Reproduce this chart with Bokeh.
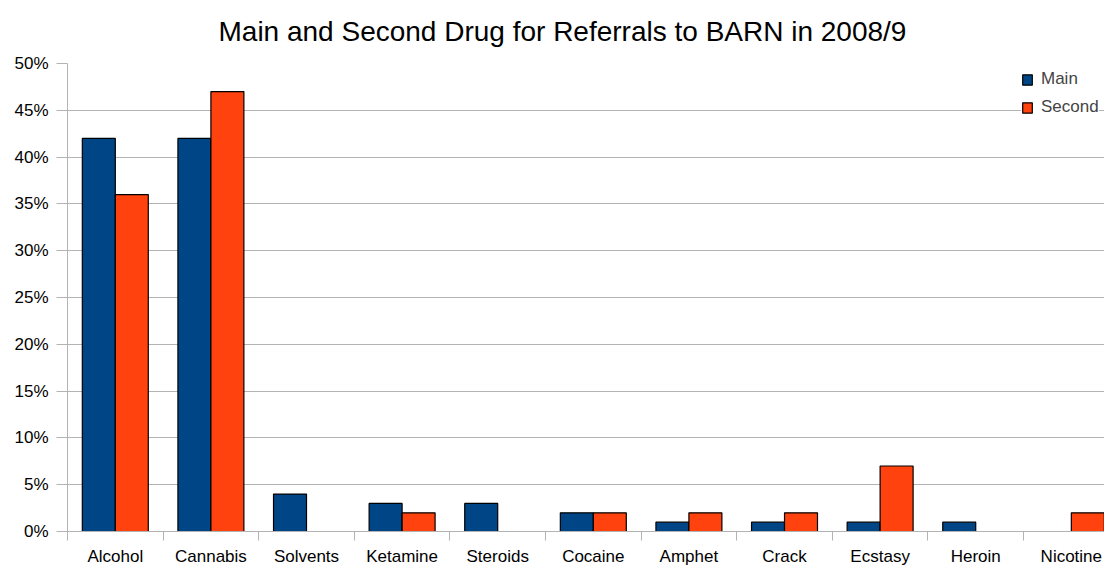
from bokeh.plotting import figure
from bokeh.models import (Range1d, FixedTicker, PrintfTickFormatter, Legend, LegendItem,
                          ColumnDataSource)
from bokeh.transform import dodge
from bokeh.embed import file_html
from bokeh.resources import INLINE

categories = ["Alcohol", "Cannabis", "Solvents", "Ketamine", "Steroids", "Cocaine",
              "Amphet", "Crack", "Ecstasy", "Heroin", "Nicotine"]
main = [42, 42, 4, 3, 3, 2, 1, 1, 1, 1, 0]
second = [36, 47, 0, 2, 0, 2, 2, 2, 7, 0, 2]
y_ticks = [0, 5, 10, 15, 20, 25, 30, 35, 40, 45, 50]
title_text = "Main and Second Drug for Referrals to BARN in 2008/9"

FONT = "Liberation Sans"
GRID = "#b3b3b3"
C_MAIN = "#004586"
C_SECOND = "#ff420e"

centers = [i + 0.5 for i in range(len(categories))]
bounds = [float(i) for i in range(len(categories) + 1)]

src_main = ColumnDataSource(dict(
    x=[c for c, v in zip(centers, main) if v > 0],
    top=[v for v in main if v > 0]))
src_second = ColumnDataSource(dict(
    x=[c for c, v in zip(centers, second) if v > 0],
    top=[v for v in second if v > 0]))

p = figure(width=1104, height=568, output_backend="svg", toolbar_location=None,
           x_range=Range1d(0, 10.847), y_range=Range1d(0, 50),
           min_border_left=67, min_border_right=0, min_border_top=62, min_border_bottom=36)
p.outline_line_color = None
p.background_fill_color = "white"
p.border_fill_color = "white"

p.title.text = title_text
p.title.text_font = FONT
p.title.text_font_size = "28px"
p.title.text_font_style = "normal"
p.title.text_color = "black"
p.title.align = "left"
p.title.vertical_align = "top"
p.title.offset = 151
p.title.standoff = 30

BW = 0.345
r1 = p.vbar(x=dodge("x", -BW / 2, range=p.x_range), top="top", bottom=0, width=BW,
            source=src_main, fill_color=C_MAIN, line_color="black", line_width=1.2)
r2 = p.vbar(x=dodge("x", BW / 2, range=p.x_range), top="top", bottom=0, width=BW,
            source=src_second, fill_color=C_SECOND, line_color="black", line_width=1.2)

# x axis
xa = p.xaxis[0]
xa.ticker = FixedTicker(ticks=centers, minor_ticks=bounds)
xa.major_label_overrides = {c: n for c, n in zip(centers, categories)}
xa.major_tick_out = 0
xa.major_tick_in = 0
xa.minor_tick_out = 9
xa.minor_tick_in = 0
xa.minor_tick_line_color = GRID
xa.axis_line_color = GRID
xa.major_label_text_font = FONT
xa.major_label_text_font_size = "17px"
xa.major_label_text_color = "black"
xa.major_label_standoff = 6

# y axis
ya = p.yaxis[0]
ya.ticker = FixedTicker(ticks=y_ticks)
ya.formatter = PrintfTickFormatter(format="%d%%")
ya.major_tick_out = 11
ya.major_tick_in = 0
ya.minor_tick_line_color = None
ya.major_tick_line_color = GRID
ya.axis_line_color = GRID
ya.major_label_text_font = FONT
ya.major_label_text_font_size = "17px"
ya.major_label_text_color = "black"
ya.major_label_standoff = 8

p.xgrid.visible = False
p.ygrid.grid_line_color = GRID
p.ygrid.grid_line_width = 1

legend = Legend(items=[LegendItem(label="Main", renderers=[r1]),
                       LegendItem(label="Second", renderers=[r2])],
                location=(954, 411), padding=2, spacing=2, margin=0,
                label_height=26, glyph_height=13, glyph_width=12, label_standoff=8,
                label_text_font=FONT, label_text_font_size="17px",
                border_line_color=None, background_fill_color="white",
                background_fill_alpha=1.0)
p.add_layout(legend)

open("out.html", "w").write(file_html(p, INLINE))
